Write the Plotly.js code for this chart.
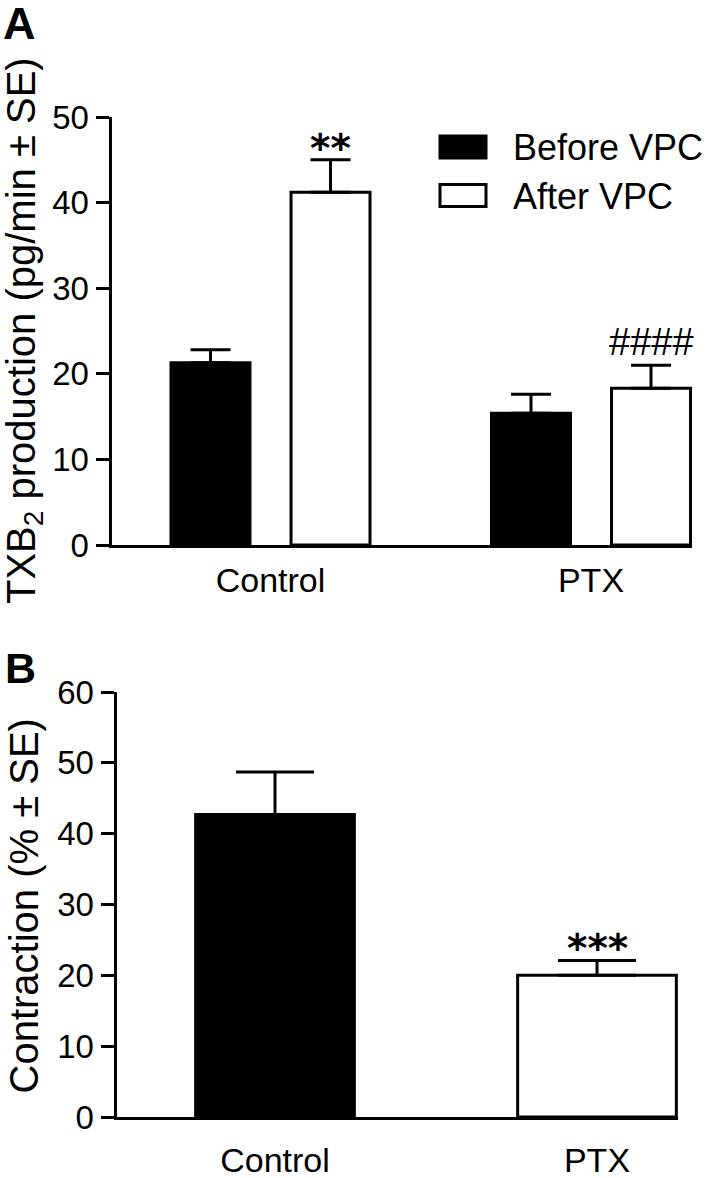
<!DOCTYPE html>
<html>
<head>
<meta charset="utf-8">
<script src="https://cdn.plot.ly/plotly-3.0.1.min.js"></script>
<style>
  html, body { margin: 0; padding: 0; background: #ffffff; }
  #chart { width: 705px; height: 1178px; }
</style>
</head>
<body>
<div id="chart"></div>
<script>
// ---------- Panel A data ----------
const groupsA = ['Control', 'PTX'];
const seriesNamesA = ['Before VPC', 'After VPC'];
const beforeVPC = [21.3, 15.4];
const beforeVPC_SE = [1.5, 2.2];
const afterVPC = [41.2, 18.3];
const afterVPC_SE = [3.8, 2.7];
const sigAfterVPC = ['**', '####'];
const yTicksA = [0, 10, 20, 30, 40, 50];
const yTitleA = 'TXB<sub>2</sub> production (pg/min ± SE)';

// ---------- Panel B data ----------
const groupsB = ['Control', 'PTX'];
const contraction = [42.7, 20.0];
const contraction_SE = [6.0, 2.1];
const sigContraction = ['', '***'];
const yTicksB = [0, 10, 20, 30, 40, 50, 60];
const yTitleB = 'Contraction (% ± SE)';

// ---------- styling ----------
const FONT = 'Liberation Sans, Arial, Helvetica, sans-serif';
const STAR_FONT = 'DejaVu Sans, Liberation Sans, sans-serif';
const W = 705, H = 1178;
const px = v => v / W;           // x pixel -> paper
const py = v => 1 - v / H;       // y pixel -> paper

const bargapA = 0.251;
const offA = (1 - bargapA) / 4;  // centre offset of each bar in a group

const traces = [
  {
    type: 'bar', name: seriesNamesA[0], x: groupsA, y: beforeVPC,
    xaxis: 'x', yaxis: 'y',
    marker: { color: '#000000', line: { color: '#000000', width: 3 } },
    error_y: { type: 'data', symmetric: false, array: beforeVPC_SE,
               arrayminus: beforeVPC_SE.map(() => 0),
               color: '#000000', thickness: 3, width: 20 },
    showlegend: false, hoverinfo: 'skip'
  },
  {
    type: 'bar', name: seriesNamesA[1], x: groupsA, y: afterVPC,
    xaxis: 'x', yaxis: 'y',
    marker: { color: '#ffffff', line: { color: '#000000', width: 3 } },
    error_y: { type: 'data', symmetric: false, array: afterVPC_SE,
               arrayminus: afterVPC_SE.map(() => 0),
               color: '#000000', thickness: 3, width: 20 },
    showlegend: false, hoverinfo: 'skip'
  },
  {
    type: 'bar', name: 'Contraction', x: groupsB, y: contraction,
    xaxis: 'x2', yaxis: 'y2',
    marker: { color: ['#000000', '#ffffff'], line: { color: '#000000', width: 3 } },
    error_y: { type: 'data', symmetric: false, array: contraction_SE,
               arrayminus: contraction_SE.map(() => 0),
               color: '#000000', thickness: 3, width: 39 },
    showlegend: false, hoverinfo: 'skip'
  }
];

const annotations = [];
// significance marks, panel A (above After VPC bars)
groupsA.forEach((g, i) => {
  if (!sigAfterVPC[i]) return;
  const isStar = sigAfterVPC[i].indexOf('*') >= 0;
  annotations.push({
    xref: 'x', yref: 'y', x: i + offA, y: afterVPC[i] + afterVPC_SE[i],
    text: sigAfterVPC[i], showarrow: false, xanchor: 'center', yanchor: 'bottom',
    yshift: isStar ? -13 : 0,
    font: isStar ? { family: STAR_FONT, size: 39, color: '#000', weight: 'bold' }
                 : { family: FONT, size: 38, color: '#000' }
  });
});
// significance marks, panel B
groupsB.forEach((g, i) => {
  if (!sigContraction[i]) return;
  annotations.push({
    xref: 'x2', yref: 'y2', x: i, y: contraction[i] + contraction_SE[i],
    text: sigContraction[i], showarrow: false, xanchor: 'center', yanchor: 'bottom',
    yshift: -13,
    font: { family: STAR_FONT, size: 39, color: '#000', weight: 'bold' }
  });
});
// y-axis titles (rotated text)
annotations.push({ xref: 'paper', yref: 'paper', x: px(23.5), y: py(330.5), xanchor: 'center', yanchor: 'middle',
  textangle: -90, text: yTitleA, showarrow: false, font: { family: FONT, size: 40, color: '#000' } });
annotations.push({ xref: 'paper', yref: 'paper', x: px(23.5), y: py(906), xanchor: 'center', yanchor: 'middle',
  textangle: -90, text: yTitleB, showarrow: false, font: { family: FONT, size: 40, color: '#000' } });
// panel letters
annotations.push({ xref: 'paper', yref: 'paper', x: px(1), y: py(-4), xanchor: 'left', yanchor: 'top',
  text: 'A', showarrow: false, font: { family: FONT, size: 45, color: '#000', weight: 'bold' } });
annotations.push({ xref: 'paper', yref: 'paper', x: px(3), y: py(642), xanchor: 'left', yanchor: 'top',
  text: 'B', showarrow: false, font: { family: FONT, size: 43, color: '#000', weight: 'bold' } });
// legend text
annotations.push({ xref: 'paper', yref: 'paper', x: px(511), y: py(147), xanchor: 'left', yanchor: 'middle',
  text: seriesNamesA[0], showarrow: false, font: { family: FONT, size: 36, color: '#000' } });
annotations.push({ xref: 'paper', yref: 'paper', x: px(511), y: py(196), xanchor: 'left', yanchor: 'middle',
  text: seriesNamesA[1], showarrow: false, font: { family: FONT, size: 36, color: '#000' } });

const shapes = [
  { type: 'rect', xref: 'paper', yref: 'paper', x0: px(440), x1: px(486), y0: py(136), y1: py(158),
    fillcolor: '#000000', line: { color: '#000000', width: 3 } },
  { type: 'rect', xref: 'paper', yref: 'paper', x0: px(440), x1: px(486), y0: py(184.5), y1: py(206.5),
    fillcolor: '#ffffff', line: { color: '#000000', width: 3 } }
];

const yAxisCommon = {
  showline: true, linecolor: '#000', linewidth: 3, showgrid: false, zeroline: false,
  ticks: 'outside', ticklen: 13, tickwidth: 3, tickcolor: '#000',
  tickfont: { family: FONT, size: 33, color: '#000' }, fixedrange: true
};
const xAxisCommon = {
  type: 'category', showline: true, linecolor: '#000', linewidth: 3, showgrid: false,
  zeroline: false, ticks: '', tickfont: { family: FONT, size: 34, color: '#000' }, fixedrange: true
};

const layout = {
  width: W, height: H,
  margin: { l: 0, r: 0, t: 0, b: 0 },
  paper_bgcolor: '#ffffff', plot_bgcolor: 'rgba(0,0,0,0)',
  font: { family: FONT, color: '#000' },
  showlegend: false,
  barmode: 'group', bargap: bargapA, bargroupgap: 0.342,
  xaxis: Object.assign({}, xAxisCommon, {
    domain: [px(111.5), px(692)], anchor: 'y',
    range: [(111.5 - 270.5) / 320.5, (692 - 270.5) / 320.5],
    ticklabelstandoff: 3
  }),
  yaxis: Object.assign({}, yAxisCommon, {
    domain: [py(545), py(117)], anchor: 'x', range: [0, 50],
    tickvals: yTicksA
  }),
  xaxis2: Object.assign({}, xAxisCommon, {
    domain: [px(116.5), px(678)], anchor: 'y2',
    range: [(116.5 - 275) / 322, (678 - 275) / 322],
    ticklabelstandoff: 11
  }),
  yaxis2: Object.assign({}, yAxisCommon, {
    domain: [py(1117), py(692)], anchor: 'x2', range: [0, 60],
    tickvals: yTicksB
  }),
  annotations: annotations,
  shapes: shapes
};

Plotly.newPlot('chart', traces, layout, { displayModeBar: false, staticPlot: true });
</script>
</body>
</html>
